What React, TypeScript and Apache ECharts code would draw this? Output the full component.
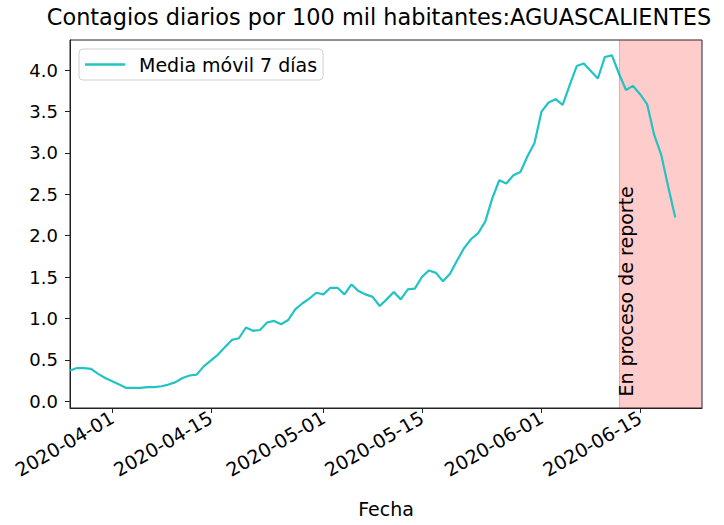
import React, { useEffect, useRef } from "react";
import * as echarts from "echarts";

const TITLE = "Contagios diarios por 100 mil habitantes:AGUASCALIENTES";
const SERIES_NAME = "Media móvil 7 días";
const X_NAME = "Fecha";
const NOTE = "En proceso de reporte";

const START_DATE = "2020-03-26";
const X_MIN_DATE = "2020-03-26";
const X_MAX_OFFSET_DAYS = 89.8; // right limit, days after X_MIN_DATE
const REPORT_START = "2020-06-12";

const xTickLabels = ["2020-04-01", "2020-04-15", "2020-05-01", "2020-05-15", "2020-06-01", "2020-06-15"];
const yTicks = [0, 0.5, 1, 1.5, 2, 2.5, 3, 3.5, 4];
const Y_MIN = -0.083;
const Y_MAX = 4.365;

// daily 7-day moving average, starting at START_DATE
const values = [
  0.37, 0.40, 0.40, 0.39, 0.33, 0.28, 0.24, 0.20, 0.16, 0.16,
  0.16, 0.17, 0.17, 0.18, 0.20, 0.23, 0.28, 0.31, 0.32, 0.42,
  0.49, 0.56, 0.65, 0.74, 0.76, 0.89, 0.85, 0.86, 0.95, 0.97,
  0.93, 0.98, 1.11, 1.18, 1.24, 1.31, 1.29, 1.37, 1.37, 1.29,
  1.41, 1.33, 1.29, 1.26, 1.15, 1.23, 1.32, 1.23, 1.35, 1.36,
  1.50, 1.58, 1.55, 1.45, 1.54, 1.70, 1.85, 1.96, 2.03, 2.17,
  2.45, 2.67, 2.63, 2.73, 2.77, 2.96, 3.12, 3.50, 3.61, 3.65,
  3.58, 3.82, 4.05, 4.08, 3.99, 3.90, 4.16, 4.18, 3.96, 3.76,
  3.81, 3.71, 3.59, 3.22, 2.98, 2.59, 2.22,
];

const DAY = 86400000;
const REF = Date.parse("2020-04-01T00:00:00Z");
const toDay = (s: string) => (Date.parse(s + "T00:00:00Z") - REF) / DAY;
const fromDay = (d: number) => new Date(REF + Math.round(d) * DAY).toISOString().slice(0, 10);

const FONT = "DejaVu Sans";
const FS = 19;

export default function App() {
  const ref = useRef<HTMLDivElement>(null);
  useEffect(() => {
    document.body.style.margin = "0";
    if (!ref.current) return;
    const chart = echarts.init(ref.current, null, { renderer: "svg" });
    const start = toDay(START_DATE);
    const data = values.map((v, i) => [start + i, v]);
    const xMin = toDay(X_MIN_DATE);
    const xMax = xMin + X_MAX_OFFSET_DAYS;
    const xTicks = xTickLabels.map(toDay);
    const reportStart = toDay(REPORT_START);

    chart.setOption({
      animation: false,
      title: {
        text: TITLE,
        left: 379,
        top: 6,
        padding: 0,
        textAlign: "center",
        textStyle: { fontFamily: FONT, fontSize: 22.4, fontWeight: "normal", color: "#000" },
      },
      legend: {
        data: [{ name: SERIES_NAME, icon: "rect" }],
        left: 79,
        top: 49,
        orient: "vertical",
        padding: [6, 6, 6, 6],
        borderColor: "#d0d0d0",
        borderWidth: 1,
        borderRadius: 4,
        backgroundColor: "rgba(255,255,255,0.8)",
        itemWidth: 40,
        itemHeight: 2.4,
        textStyle: { fontFamily: FONT, fontSize: FS, color: "#000", padding: [0, 0, 0, 9] },
      },
      grid: {
        left: 70,
        right: 22,
        top: 40,
        bottom: 117,
        show: true,
        borderColor: "#222",
        borderWidth: 1,
        backgroundColor: "transparent",
        containLabel: false,
      },
      xAxis: {
        type: "value",
        min: xMin,
        max: xMax,
        name: X_NAME,
        nameLocation: "middle",
        nameGap: 91,
        nameTextStyle: { fontFamily: FONT, fontSize: FS, color: "#000" },
        axisLine: { show: true, onZero: false, lineStyle: { color: "#222", width: 1 } },
        axisTick: { show: true, length: 5, lineStyle: { color: "#222" }, customValues: xTicks },
        axisLabel: {
          customValues: xTicks,
          rotate: 30,
          margin: 8,
          fontFamily: FONT,
          fontSize: FS,
          color: "#000",
          formatter: (v: number) => fromDay(v),
        },
        splitLine: { show: false },
      },
      yAxis: {
        type: "value",
        min: Y_MIN,
        max: Y_MAX,
        axisLine: { show: true, onZero: false, lineStyle: { color: "#222", width: 1 } },
        axisTick: { show: true, length: 5, lineStyle: { color: "#222" }, customValues: yTicks },
        axisLabel: {
          customValues: yTicks,
          margin: 12,
          fontFamily: FONT,
          fontSize: 18,
          color: "#000",
          formatter: (v: number) => v.toFixed(1),
        },
        splitLine: { show: false },
      },
      series: [
        {
          name: SERIES_NAME,
          type: "line",
          data,
          symbol: "none",
          showSymbol: false,
          lineStyle: { color: "#22c3c3", width: 2.2 },
          itemStyle: { color: "#22c3c3" },
          z: 3,
          markArea: {
            silent: true,
            itemStyle: { color: "rgba(255,0,0,0.2)", borderWidth: 0 },
            data: [[{ xAxis: reportStart }, { xAxis: xMax }]],
          },
          markLine: {
            silent: true,
            symbol: "none",
            label: { show: false },
            lineStyle: { color: "rgba(255,0,0,0.22)", width: 1, type: "solid" },
            data: [{ xAxis: reportStart }],
          },
        },
      ],
    });

    const p = chart.convertToPixel({ gridIndex: 0 }, [reportStart, 0.055]) as number[];
    chart.setOption({
      graphic: [
        {
          type: "text",
          x: p[0] + 7,
          y: p[1],
          rotation: Math.PI / 2,
          silent: true,
          z: 10,
          style: {
            text: NOTE,
            fill: "#000",
            font: `${FS}px "${FONT}"`,
            align: "left",
            verticalAlign: "middle",
          },
        },
      ],
    });

    return () => chart.dispose();
  }, []);
  return <div ref={ref} style={{ width: 724, height: 525 }} />;
}
